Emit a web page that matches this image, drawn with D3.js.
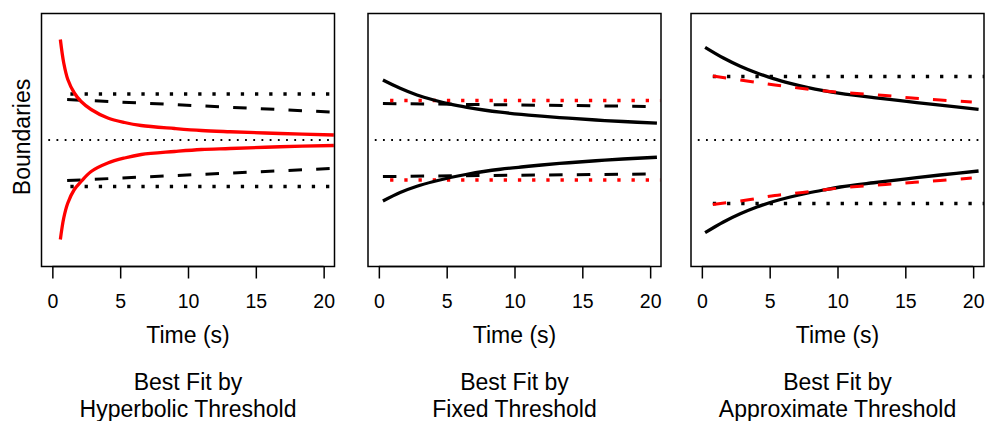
<!DOCTYPE html>
<html>
<head>
<meta charset="utf-8">
<script src="https://cdn.jsdelivr.net/npm/d3@7"></script>
<style>
  html, body { margin: 0; padding: 0; background: #fff; }
  svg { display: block; font-family: "Liberation Sans", Arial, Helvetica, sans-serif; }
</style>
</head>
<body>
<svg id="chart" width="994" height="421"></svg>
<script>
// ---------- data (boundary values in arbitrary units, time in seconds) ----------
const xTicks = [0, 5, 10, 15, 20];
const xLabel = "Time (s)";
const yLabel = "Boundaries";
const titleLine1 = ["Best Fit by", "Best Fit by", "Best Fit by"];
const titleLine2 = ["Hyperbolic Threshold", "Fixed Threshold", "Approximate Threshold"];

// centre reference line
const centreTime = [-0.3, 20.5];
const centreValue = [0, 0];

// Panel 1: best fit by hyperbolic threshold
const p1HypTime  = [0.59, 0.84, 1.14, 1.62, 2.12, 2.86, 4.09, 5.32, 6.55, 9.01, 10.98, 13.1, 16.8, 20.75];
const p1HypUpper = [2.01, 1.54, 1.21, 0.94, 0.77, 0.61, 0.44, 0.35, 0.29, 0.23, 0.19, 0.165, 0.13, 0.10];
const p1HypLower = [-1.99, -1.56, -1.26, -0.99, -0.83, -0.63, -0.46, -0.36, -0.29, -0.23, -0.19, -0.17, -0.135, -0.11];
const p1ApproxTime  = [1.09, 20.5];
const p1ApproxUpper = [0.81, 0.56];
const p1ApproxLower = [-0.81, -0.57];
const p1FixedTime  = [1.33, 20.5];
const p1FixedUpper = [0.92, 0.92];
const p1FixedLower = [-0.93, -0.93];

// Panel 2: best fit by fixed threshold
const p2HypTime  = [0.3, 1.57, 2.81, 4.04, 5.27, 6.5, 7.73, 8.96, 10.5, 12, 14, 16, 18, 20.5];
const p2HypUpper = [1.20, 1.034, 0.90, 0.80, 0.716, 0.652, 0.60, 0.556, 0.512, 0.476, 0.436, 0.40, 0.37, 0.336];
const p2HypLower = [-1.22, -1.05, -0.925, -0.83, -0.75, -0.685, -0.63, -0.585, -0.54, -0.50, -0.455, -0.415, -0.38, -0.345];
const p2ApproxTime  = [0.3, 20.5];
const p2ApproxUpper = [0.73, 0.67];
const p2ApproxLower = [-0.73, -0.68];
const p2FixedTime  = [0.83, 20.75];
const p2FixedUpper = [0.79, 0.79];
const p2FixedLower = [-0.80, -0.80];

// Panel 3: best fit by approximate threshold
const p3HypTime  = [0.24, 1.59, 2.83, 4.06, 5.28, 6.52, 7.75, 8.97, 10.2, 12.66, 15.1, 17.57, 20.4];
const p3HypUpper = [1.854, 1.64, 1.476, 1.34, 1.226, 1.132, 1.052, 0.986, 0.932, 0.848, 0.772, 0.698, 0.614];
const p3HypLower = [-1.854, -1.64, -1.476, -1.34, -1.23, -1.14, -1.065, -1.0, -0.94, -0.855, -0.778, -0.70, -0.62];
const p3ApproxTime  = [0.81, 3.32, 5.38, 7.42, 9.46, 11.44, 13.53, 15.5, 17.57, 19.9];
const p3ApproxUpper = [1.28, 1.18, 1.10, 1.03, 0.97, 0.93, 0.89, 0.84, 0.80, 0.76];
const p3ApproxLower = [-1.29, -1.20, -1.11, -1.05, -0.98, -0.93, -0.89, -0.85, -0.81, -0.76];
const p3FixedTime  = [0.81, 20.8];
const p3FixedUpper = [1.27, 1.27];
const p3FixedLower = [-1.27, -1.27];

// ---------- styles ----------
const RED = "#ff0000", BLACK = "#000000";
const STY = {
  solid:  { w: 3.3, dash: null },
  dashed: { w: 3.0, dash: "13.5 14.2" },
  dotted: { w: 3.3, dash: "3.3 10.9" },
  thin:   { w: 1.8, dash: "1.8 6.4" }
};

const pairs = (t, v) => t.map((d, i) => [d, v[i]]);

const panels = [
  { layers: [
      { t: p1FixedTime, v: [p1FixedUpper, p1FixedLower], s: "dotted", c: BLACK },
      { t: p1ApproxTime, v: [p1ApproxUpper, p1ApproxLower], s: "dashed", c: BLACK },
      { t: p1HypTime, v: [p1HypUpper, p1HypLower], s: "solid", c: RED }
  ]},
  { layers: [
      { t: p2ApproxTime, v: [p2ApproxUpper, p2ApproxLower], s: "dashed", c: BLACK },
      { t: p2FixedTime, v: [p2FixedUpper, p2FixedLower], s: "dotted", c: RED },
      { t: p2HypTime, v: [p2HypUpper, p2HypLower], s: "solid", c: BLACK }
  ]},
  { layers: [
      { t: p3HypTime, v: [p3HypUpper, p3HypLower], s: "solid", c: BLACK },
      { t: p3FixedTime, v: [p3FixedUpper, p3FixedLower], s: "dotted", c: BLACK },
      { t: p3ApproxTime, v: [p3ApproxUpper, p3ApproxLower], s: "dashed", c: RED }
  ]}
];

// ---------- layout ----------
const svg = d3.select("#chart");
const panelLeft = [41.5, 368, 691];
const plotW = 293, plotTop = 13.5, plotBottom = 266.5;
const FONT_AX = 19.5, FONT_LAB = 23;

const yScale = d3.scaleLinear().domain([-2.53, 2.53]).range([plotBottom, plotTop]);

panels.forEach((p, k) => {
  const left = panelLeft[k];
  const x = d3.scaleLinear().domain([-0.8, 20.8]).range([left, left + plotW]);
  const g = svg.append("g");
  const line = d3.line().x(d => x(d[0])).y(d => yScale(d[1])).curve(d3.curveCatmullRom.alpha(0.5));

  // centre dotted line
  g.append("path")
    .attr("d", line(pairs(centreTime, centreValue)))
    .attr("fill", "none").attr("stroke", BLACK)
    .attr("stroke-width", STY.thin.w).attr("stroke-dasharray", STY.thin.dash);

  p.layers.forEach(L => {
    L.v.forEach(vals => {
      const st = STY[L.s];
      g.append("path")
        .attr("d", line(pairs(L.t, vals)))
        .attr("fill", "none")
        .attr("stroke", L.c)
        .attr("stroke-width", st.w)
        .attr("stroke-dasharray", st.dash)
        .attr("stroke-linecap", "butt")
        .attr("stroke-linejoin", "round");
    });
  });

  // box
  g.append("rect")
    .attr("x", left).attr("y", plotTop)
    .attr("width", plotW).attr("height", plotBottom - plotTop)
    .attr("fill", "none").attr("stroke", BLACK).attr("stroke-width", 1.5);

  // x axis
  const ax = g.append("g").attr("transform", `translate(0,${plotBottom})`)
    .call(d3.axisBottom(x).tickValues(xTicks).tickSize(12).tickPadding(15.5).tickFormat(d3.format("d")));
  ax.select(".domain").remove();
  ax.selectAll(".tick line").attr("stroke", BLACK).attr("stroke-width", 1.5);
  ax.selectAll(".tick text")
    .attr("font-family", "Liberation Sans, Arial, sans-serif")
    .attr("font-size", FONT_AX).attr("fill", BLACK);
  ax.append("line")
    .attr("x1", x(xTicks[0])).attr("x2", x(xTicks[xTicks.length - 1]))
    .attr("y1", 0).attr("y2", 0)
    .attr("stroke", BLACK).attr("stroke-width", 1.5);

  const cx = left + plotW / 2;
  g.append("text").attr("x", cx).attr("y", 343).attr("text-anchor", "middle")
    .attr("font-size", FONT_LAB).text(xLabel);
  g.append("text").attr("x", cx).attr("y", 390).attr("text-anchor", "middle")
    .attr("font-size", FONT_LAB).text(titleLine1[k]);
  g.append("text").attr("x", cx).attr("y", 417).attr("text-anchor", "middle")
    .attr("font-size", FONT_LAB).text(titleLine2[k]);
});

svg.append("text")
  .attr("transform", "translate(30,137) rotate(-90)")
  .attr("text-anchor", "middle")
  .attr("font-size", FONT_LAB)
  .text(yLabel);
</script>
</body>
</html>
